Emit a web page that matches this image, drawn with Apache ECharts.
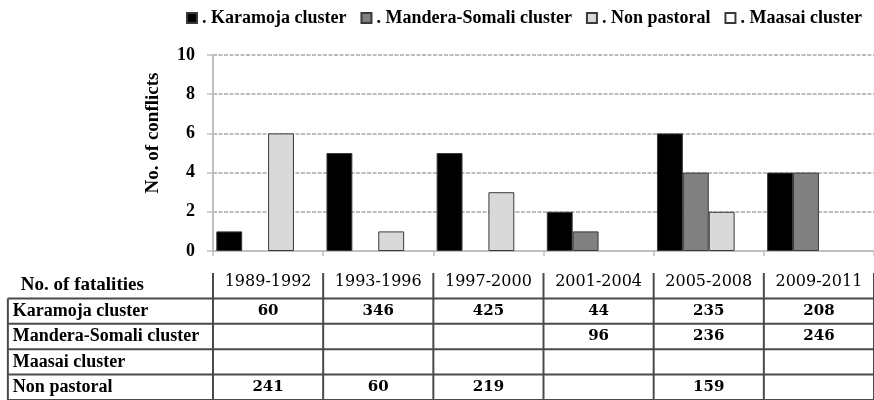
<!DOCTYPE html>
<html>
<head>
<meta charset="utf-8">
<script src="https://cdn.jsdelivr.net/npm/echarts@6/dist/echarts.min.js"></script>
<style>html,body{margin:0;padding:0;background:#fff;}#chart{width:874px;height:400px;}</style>
</head>
<body>
<div id="chart"></div>
<script>
const categories = ['1989-1992','1993-1996','1997-2000','2001-2004','2005-2008','2009-2011'];
const seriesNames = ['Karamoja cluster','Mandera-Somali cluster','Non pastoral','Maasai cluster'];
const karamojaConflicts = [1,5,5,2,6,4];
const manderaConflicts = [0,0,0,1,4,4];
const nonPastoralConflicts = [6,1,3,0,2,0];
const maasaiConflicts = [0,0,0,0,0,0];
const yAxisName = 'No. of conflicts';

const tableTitle = 'No. of fatalities';
const tableRows = ['Karamoja cluster','Mandera-Somali cluster','Maasai cluster','Non pastoral'];
const karamojaFatalities = [60,346,425,44,235,208];
const manderaFatalities = [null,null,null,96,236,246];
const maasaiFatalities = [null,null,null,null,null,null];
const nonPastoralFatalities = [241,60,219,null,159,null];

const SERIF = '"Liberation Serif", "Times New Roman", serif';
const SERIF2 = '"DejaVu Serif", serif';
const colors = ['#000000','#808080','#d9d9d9','#ffffff'];
const conflictData = [karamojaConflicts, manderaConflicts, nonPastoralConflicts, maasaiConflicts];
const fatalityData = [karamojaFatalities, manderaFatalities, maasaiFatalities, nonPastoralFatalities];
const labelColUnits = 1.862; // width of the label column in category widths

// table line segments (in table axis units)
const nCol = categories.length, nRow = tableRows.length;
const lines = [];
for (let j = 1; j <= nRow + 1; j++) lines.push([-labelColUnits, j, nCol, j]);
for (let i = 0; i <= nCol; i++) lines.push([i, 0, i, nRow + 1]);
lines.push([-labelColUnits, 1, -labelColUnits, nRow + 1]);

// table cells
const cells = [];
cells.push({x: -labelColUnits, y: 0.5, text: tableTitle, kind: 'title'});
categories.forEach((c, i) => cells.push({x: i + 0.5, y: 0.5, text: c, kind: 'year'}));
tableRows.forEach((r, j) => {
  cells.push({x: -labelColUnits, y: j + 1.5, text: r, kind: 'row'});
  fatalityData[j].forEach((v, i) => {
    if (v !== null) cells.push({x: i + 0.5, y: j + 1.5, text: String(v), kind: 'val'});
  });
});
const cellStyles = {
  title: {align: 'left', dx: 13, dy: -1, font: 'bold 19px ' + SERIF},
  year:  {align: 'center', dx: 0, dy: -4, font: '16px ' + SERIF2},
  row:   {align: 'left', dx: 5, dy: 0, font: 'bold 18px ' + SERIF},
  val:   {align: 'center', dx: 0, dy: 0, font: 'bold 15px ' + SERIF2}
};

const chart = echarts.init(document.getElementById('chart'), null, {renderer: 'canvas'});
const option = {
  animation: false,
  backgroundColor: '#fff',
  legend: {
    left: 181, top: 4,
    icon: 'rect', itemWidth: 10, itemHeight: 10, itemGap: 14,
    formatter: '. {name}',
    textStyle: {fontFamily: SERIF, fontWeight: 'bold', fontSize: 18, color: '#000'},
    data: seriesNames
  },
  grid: [
    {left: 213, right: -3, top: 55, bottom: 149, containLabel: false},
    {left: 213, right: -3, top: 273, bottom: 0, containLabel: false}
  ],
  xAxis: [
    {type: 'category', gridIndex: 0, data: categories,
     axisLine: {lineStyle: {color: '#c0c0c0', width: 2}},
     axisTick: {show: true, length: 5, lineStyle: {color: '#c0c0c0', width: 1.5}},
     axisLabel: {show: false}},
    {type: 'value', gridIndex: 1, min: 0, max: nCol, show: false}
  ],
  yAxis: [
    {type: 'value', gridIndex: 0, min: 0, max: 10, interval: 2,
     name: yAxisName, nameLocation: 'middle', nameGap: 50,
     nameTextStyle: {fontFamily: SERIF, fontWeight: 'bold', fontSize: 19, color: '#000', padding: [0, 0, 0, 40]},
     axisLine: {show: true, lineStyle: {color: '#c0c0c0', width: 2}},
     axisTick: {show: true, length: 6, lineStyle: {color: '#c0c0c0', width: 1.5}},
     axisLabel: {fontFamily: SERIF, fontWeight: 'bold', fontSize: 18, color: '#000', margin: 18},
     splitLine: {show: true, lineStyle: {color: '#a8a8a8', width: 1.5, type: [4, 1.5]}}},
    {type: 'value', gridIndex: 1, min: 0, max: nRow + 1, inverse: true, show: false}
  ],
  series: seriesNames.map((name, k) => ({
    name: name, type: 'bar', xAxisIndex: 0, yAxisIndex: 0,
    // zero counts draw no bar
    data: conflictData[k].map(v => (v === 0 ? null : v)),
    barGap: 0, barCategoryGap: '6%',
    itemStyle: {color: colors[k], borderColor: '#3a3a3a', borderWidth: 1}
  })).concat([
    {type: 'custom', name: 'tableLines', xAxisIndex: 1, yAxisIndex: 1, clip: false, silent: true,
     data: lines,
     renderItem: function (params, api) {
       const p1 = api.coord([api.value(0), api.value(1)]);
       const p2 = api.coord([api.value(2), api.value(3)]);
       return {type: 'line', shape: {x1: p1[0], y1: p1[1], x2: p2[0], y2: p2[1]},
               style: {stroke: '#4a4a4a', lineWidth: 2}};
     }},
    {type: 'custom', name: 'tableText', xAxisIndex: 1, yAxisIndex: 1, clip: false, silent: true,
     data: cells.map(c => [c.x, c.y]),
     renderItem: function (params, api) {
       const c = cells[params.dataIndex];
       const s = cellStyles[c.kind];
       const p = api.coord([api.value(0), api.value(1)]);
       return {type: 'text', x: p[0] + s.dx, y: p[1] + s.dy,
               style: {text: c.text, align: s.align, verticalAlign: 'middle', font: s.font, fill: '#000'}};
     }}
  ])
};
chart.setOption(option);
</script>
</body>
</html>
